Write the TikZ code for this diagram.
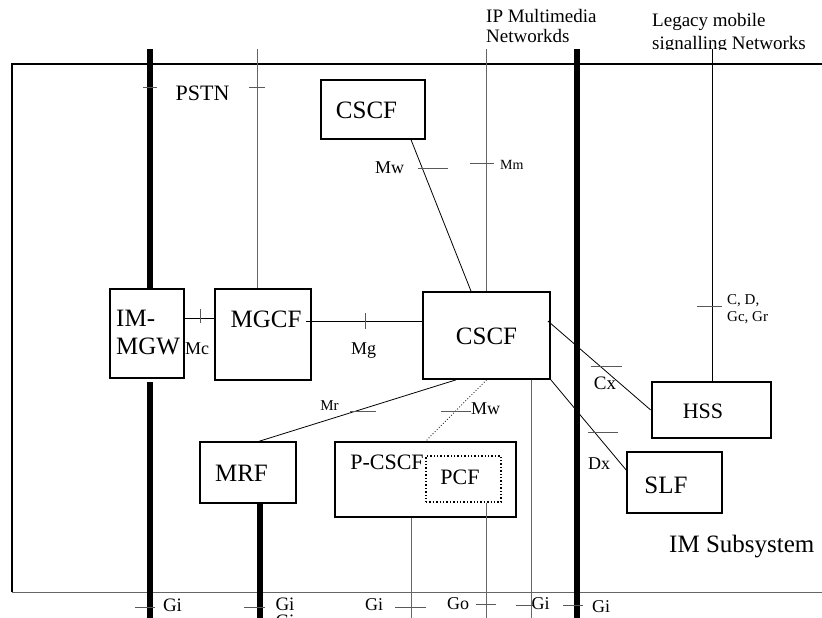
\documentclass[tikz,border=0pt]{standalone}
\usepackage{fontspec}
\setmainfont{Liberation Serif}
\begin{document}
\begin{tikzpicture}[x=1pt,y=-1pt,
  box/.style={draw, fill=white, line width=1.4pt, inner sep=0pt, rectangle},
  lbl/.style={inner sep=0pt, anchor=base},
  lblw/.style={inner sep=0pt, anchor=base west},
  bar/.style={line width=6.5pt},
  conn/.style={line width=0.8pt},
  vline/.style={line width=0.9pt, draw=black!60},
  tick/.style={line width=0.9pt, draw=black!65},
  fA/.style={font=\fontsize{25}{30}\selectfont},
  fB/.style={font=\fontsize{22}{26}\selectfont},
  fC/.style={font=\fontsize{19}{22}\selectfont},
  fD/.style={font=\fontsize{18}{21}\selectfont},
  fE/.style={font=\fontsize{15}{18}\selectfont},
  fF/.style={font=\fontsize{14}{17}\selectfont}]
\useasboundingbox (0,0) rectangle (822,618);

% outer frame
\draw[line width=1.2pt] (823,64) -- (12,64) -- (12,592);
\draw[line width=1pt, black!60] (12,592) -- (823,592);

% boxes
\node[box, minimum width=104pt, minimum height=59pt] (cscfA) at (373,109.5) {};
\node[box, minimum width=74pt, minimum height=89pt] (imgw) at (147,333.5) {};
\node[box, line width=1.7pt, minimum width=96pt, minimum height=91pt] (mgcf) at (263,334.5) {};
\node[box, line width=1.7pt, minimum width=127pt, minimum height=87pt] (cscf) at (486.5,335.5) {};
\node[box, line width=2.6pt, minimum width=119pt, minimum height=56pt] (hss) at (711.5,410) {};
\node[box, line width=1.7pt, minimum width=95pt, minimum height=61pt] (slf) at (674.5,482.5) {};
\node[box, minimum width=96pt, minimum height=61pt] (mrf) at (248,472.5) {};
\node[box, line width=1.2pt, minimum width=181pt, minimum height=75pt] (pcscf) at (425.5,479.5) {};
\node[box, dotted, line width=1.5pt, minimum width=75pt, minimum height=46pt] (pcf) at (463.5,479) {};

% box texts
\node[lbl, fA] (cscfAt) at (366.5,118) {CSCF};
\node[lblw, fA] (imgwt1) at (116,326) {IM-};
\node[lblw, fA] (imgwt2) at (116,354) {MGW};
\node[lbl, fA] (mgcft) at (266,327) {MGCF};
\node[lbl, fA] (cscft) at (486.5,344) {CSCF};
\node[lbl, fB] (hsst) at (703,418) {HSS};
\node[lbl, fA] (slft) at (666,493) {SLF};
\node[lbl, fA] (mrft) at (241.5,481) {MRF};
\node[lbl, fB] (pcscft) at (387,469) {P-CSCF};
\node[lbl, fB] (pcft) at (460,484) {PCF};

% thick bars
\coordinate (bar1Top) at (150,49);
\coordinate (bar1Mid) at (150,382);
\coordinate (bar1Bot) at (150,618);
\draw[bar] (bar1Top) -- (bar1Top |- imgw.north);
\draw[bar] (bar1Mid) -- (bar1Bot);
\coordinate (bar3Bot) at (260,618);
\draw[bar] (bar3Bot |- mrf.south) -- (bar3Bot);

% thin vertical lines
\coordinate (pstnTop) at (257,49);
\draw[vline] (pstnTop) -- (pstnTop |- mgcf.north);
\coordinate (ipTop) at (486,49);
\draw[vline] (ipTop) -- (ipTop |- cscf.north);
\coordinate (legTop) at (712,49);
\draw[conn] (legTop) -- (legTop |- hss.north);
\coordinate (cscfBot) at (531,618);
\draw[vline] (cscfBot |- cscf.south) -- (cscfBot);
\coordinate (pcscfBot) at (411,618);
\draw[vline] (pcscfBot |- pcscf.south) -- (pcscfBot);
\coordinate (pcfBot) at (486,618);
\draw[vline] (pcfBot |- pcf.south) -- (pcfBot);

% connectors
\coordinate (mcA) at ([yshift=15.5pt]imgw.east);
\draw[conn] (mcA) -- (mcA -| mgcf.west);
\coordinate (mgA) at ([xshift=-6pt,yshift=13.5pt]mgcf.east);
\draw[conn] (mgA) -- (mgA -| cscf.west);
\draw[conn] ([xshift=38pt]cscfA.south) -- ([xshift=-15.5pt]cscf.north);
\draw[conn] ([xshift=-3pt,yshift=14.5pt]cscf.east) -- (hss.west);
\draw[conn] (cscf.south east) -- ([yshift=12.5pt]slf.west);
\draw[conn] ([xshift=-30.5pt]cscf.south) -- ([xshift=11pt]mrf.north);
\draw[line width=0.9pt, dotted, black!85] (cscf.south) -- (pcscf.north);

% thick bar 2 on top
\coordinate (bar2Top) at (577,49);
\coordinate (bar2Bot) at (577,618);
\draw[bar] (bar2Top) -- (bar2Bot);

% ticks
\draw[tick] (143,87) -- (157,87);
\draw[tick] (249,87) -- (265,87);
\draw[tick] (418,168) -- (448,168);
\draw[tick] (470,163) -- (494,163);
\draw[tick] (200,309) -- (200,323);
\draw[tick] (365,313) -- (365,329);
\draw[tick] (350,411) -- (376,411);
\draw[tick] (441,411) -- (471,411);
\draw[tick] (697,306) -- (722,306);
\draw[tick] (591,366) -- (622,366);
\draw[tick] (588,432) -- (618,432);
\draw[tick] (135,607) -- (155,607);
\draw[tick] (244,607) -- (265,607);
\draw[tick] (395,607) -- (426,607);
\draw[tick] (476,604) -- (496,604);
\draw[tick] (516,605) -- (533,605);
\draw[tick] (563,605) -- (583,605);

% labels
\node[lbl, fB] (pstn) at (202.5,100.7) {PSTN};
\node[lblw, fC] (ip1) at (486,23) {IP Multimedia};
\node[lblw, fC] (ip2) at (486,43) {Networkds};
\node[lblw, fC] (leg1) at (652,27) {Legacy mobile};
\begin{scope}
  \clip (600,0) rectangle (822,49.5);
  \node[lblw, fC] (leg2) at (652,49) {signalling Networks};
\end{scope}
\node[lbl, fD] (mwA) at (389.5,173) {Mw};
\node[lblw, fF] (mm) at (500,169) {Mm};
\node[lbl, fD] (mc) at (197,354) {Mc};
\node[lbl, fD] (mg) at (363.5,354) {Mg};
\node[lbl, fE] (mr) at (329.5,410) {Mr};
\node[lbl, fD] (mwB) at (485.5,414) {Mw};
\node[lbl, fC] (cx) at (605,389) {Cx};
\node[lbl, fD] (dx) at (599,469) {Dx};
\node[lblw, fE] (cd1) at (727,304.5) {C, D,};
\node[lblw, fE] (cd2) at (727,321.5) {Gc, Gr};
\node[lblw, fA] (ims) at (669,552) {IM Subsystem};
\node[lbl, fC] (gi1) at (172.5,611) {Gi};
\node[lbl, fC] (gi2) at (285,610) {Gi};
\node[lbl, fC] (gi2b) at (285,627) {Gi};
\node[lbl, fD] (gi3) at (374,610) {Gi};
\node[lbl, fD] (go) at (458,609) {Go};
\node[lbl, fD] (gi4) at (540.5,609) {Gi};
\node[lbl, fD] (gi5) at (601,612) {Gi};
\end{tikzpicture}
\end{document}
